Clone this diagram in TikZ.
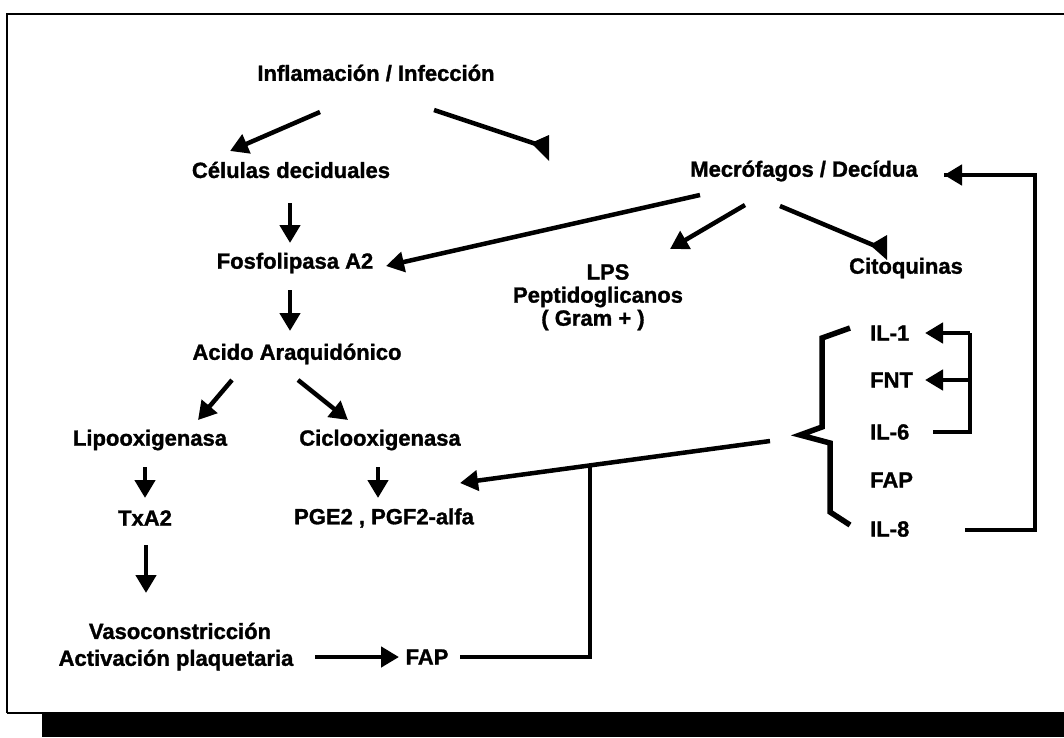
\documentclass[tikz,border=0pt]{standalone}
\usepackage{fontspec}
\setmainfont{Liberation Sans}[BoldFeatures={FakeBold=1.3}]
\usetikzlibrary{arrows.meta}
\begin{document}
\begin{tikzpicture}[x=1pt,y=-1pt,
  lbl/.style={font=\bfseries\fontsize{22}{26}\selectfont, inner sep=0pt, anchor=center},
  conn/.style={line width=4.5pt},
  arr/.style={conn,-{Triangle[length=18pt,width=20pt]}},
  flag/.style={fill=black},
  frameline/.style={line width=2.5pt},
]
\useasboundingbox (0,0) rectangle (1064,737);
% frame
\draw[frameline] (7,713) -- (7,14) -- (1064,14);
\draw[line width=1.5pt] (7,713) -- (1064,713);
\fill (42,713) rectangle (1064,737);

% nodes
\node[lbl] (infl)  at (376,73)  {Inflamación / Infección};
\node[lbl] (cel)   at (291,170) {Células deciduales};
\node[lbl] (mac)   at (804,171) {Mecrófagos / Decídua};
\node[lbl] (fos)   at (295,263) {Fosfolipasa A2};
\node[lbl] (lps)   at (608,272) {LPS};
\node[lbl] (pep)   at (598,297) {Peptidoglicanos};
\node[lbl] (gram)  at (593,320) {( Gram + )};
\node[lbl] (cito)  at (906,268) {Citoquinas};
\node[lbl] (acido) at (297,354) {Acido Araquidónico};
\node[lbl] (lipo)  at (150,440) {Lipooxigenasa};
\node[lbl] (ciclo) at (380,440) {Ciclooxigenasa};
\node[lbl] (tx)    at (145,518) {TxA2};
\node[lbl] (pge)   at (384,518) {PGE2 , PGF2-alfa};
\node[lbl] (vaso)  at (180,631) {Vasoconstricción};
\node[lbl] (activ) at (176,660) {Activación plaquetaria};
\node[lbl] (fapL)  at (427,657) {FAP};
\node[lbl,anchor=west] (il1)  at (870,333) {IL-1};
\node[lbl,anchor=west] (fnt)  at (870,380) {FNT};
\node[lbl,anchor=west] (il6)  at (870,432) {IL-6};
\node[lbl,anchor=west] (fapR) at (870,480) {FAP};
\node[lbl,anchor=west] (il8)  at (870,529) {IL-8};

% connector end points
\coordinate (a1s) at (320,112); \coordinate (a1e) at (230,151);
\coordinate (a2s) at (434,110); \coordinate (a2e) at (548,148);
\coordinate (a3s) at (290,203); \coordinate (a3e) at (290,243);
\coordinate (a4s) at (700,195); \coordinate (a4e) at (386,266);
\coordinate (a5s) at (745,205); \coordinate (a5e) at (670,249);
\coordinate (a6s) at (780,206); \coordinate (a6e) at (885,250);
\coordinate (a7s) at (290,290); \coordinate (a7e) at (290,331);
\coordinate (a8s) at (232,380); \coordinate (a8e) at (198,420);
\coordinate (a9s) at (298,380); \coordinate (a9e) at (348,420);
\coordinate (b1s) at (145,467); \coordinate (b1e) at (145,498);
\coordinate (b2s) at (378,467); \coordinate (b2e) at (378,498);
\coordinate (b3s) at (146,545); \coordinate (b3e) at (146,593);
\coordinate (b4s) at (315,657); \coordinate (b4e) at (399,657);
\coordinate (b5s) at (460,657); \coordinate (b5c) at (590,657); \coordinate (b5e) at (590,466);
\coordinate (dgs) at (770,441); \coordinate (dge) at (460,483);
\coordinate (f0) at (933,432);
\coordinate (f1) at (970,333); \coordinate (f2) at (970,380); \coordinate (f3) at (970,432);
\coordinate (t1) at (925,333); \coordinate (t2) at (925,380);
\coordinate (g1) at (965,530); \coordinate (g2) at (1035,530); \coordinate (g3) at (1035,175);
\coordinate (g4) at (944,175);

% arrows
\draw[arr] (a1s) -- (a1e);
\draw[conn] (a2s) -- (a2e);
\fill[flag] (549,135) -- (549,161) -- (531,143) -- cycle;
\draw[arr] (a3s) -- (a3e);
\draw[arr] (a4s) -- (a4e);
\draw[arr] (a5s) -- (a5e);
\draw[conn] (a6s) -- (a6e);
\fill[flag] (887,235) -- (887,260) -- (870,245) -- cycle;
\draw[arr] (a7s) -- (a7e);
\draw[arr] (a8s) -- (a8e);
\draw[arr] (a9s) -- (a9e);
\draw[arr] (b1s) -- (b1e);
\draw[arr] (b2s) -- (b2e);
\draw[arr] (b3s) -- (b3e);
\draw[arr] (b4s) -- (b4e);
\draw[conn] (b5s) -- (b5c) -- (b5e);
\draw[arr] (dgs) -- (dge);

% brace
\draw[line width=5.5pt, line join=miter] (850,328) -- (822,338) -- (822,427) -- (800,435) -- (830,443) -- (830,512) -- (850,525);

% small feedback on IL
\draw[conn] (f0) -- (f3) -- (f1);
\draw[arr] (f1) -- (t1);
\draw[arr] (f2) -- (t2);

% big feedback
\draw[conn] (g1) -- (g2) -- (g3) -- (g4);
\draw[arr] (g3) -- (g4);
\end{tikzpicture}
\end{document}
